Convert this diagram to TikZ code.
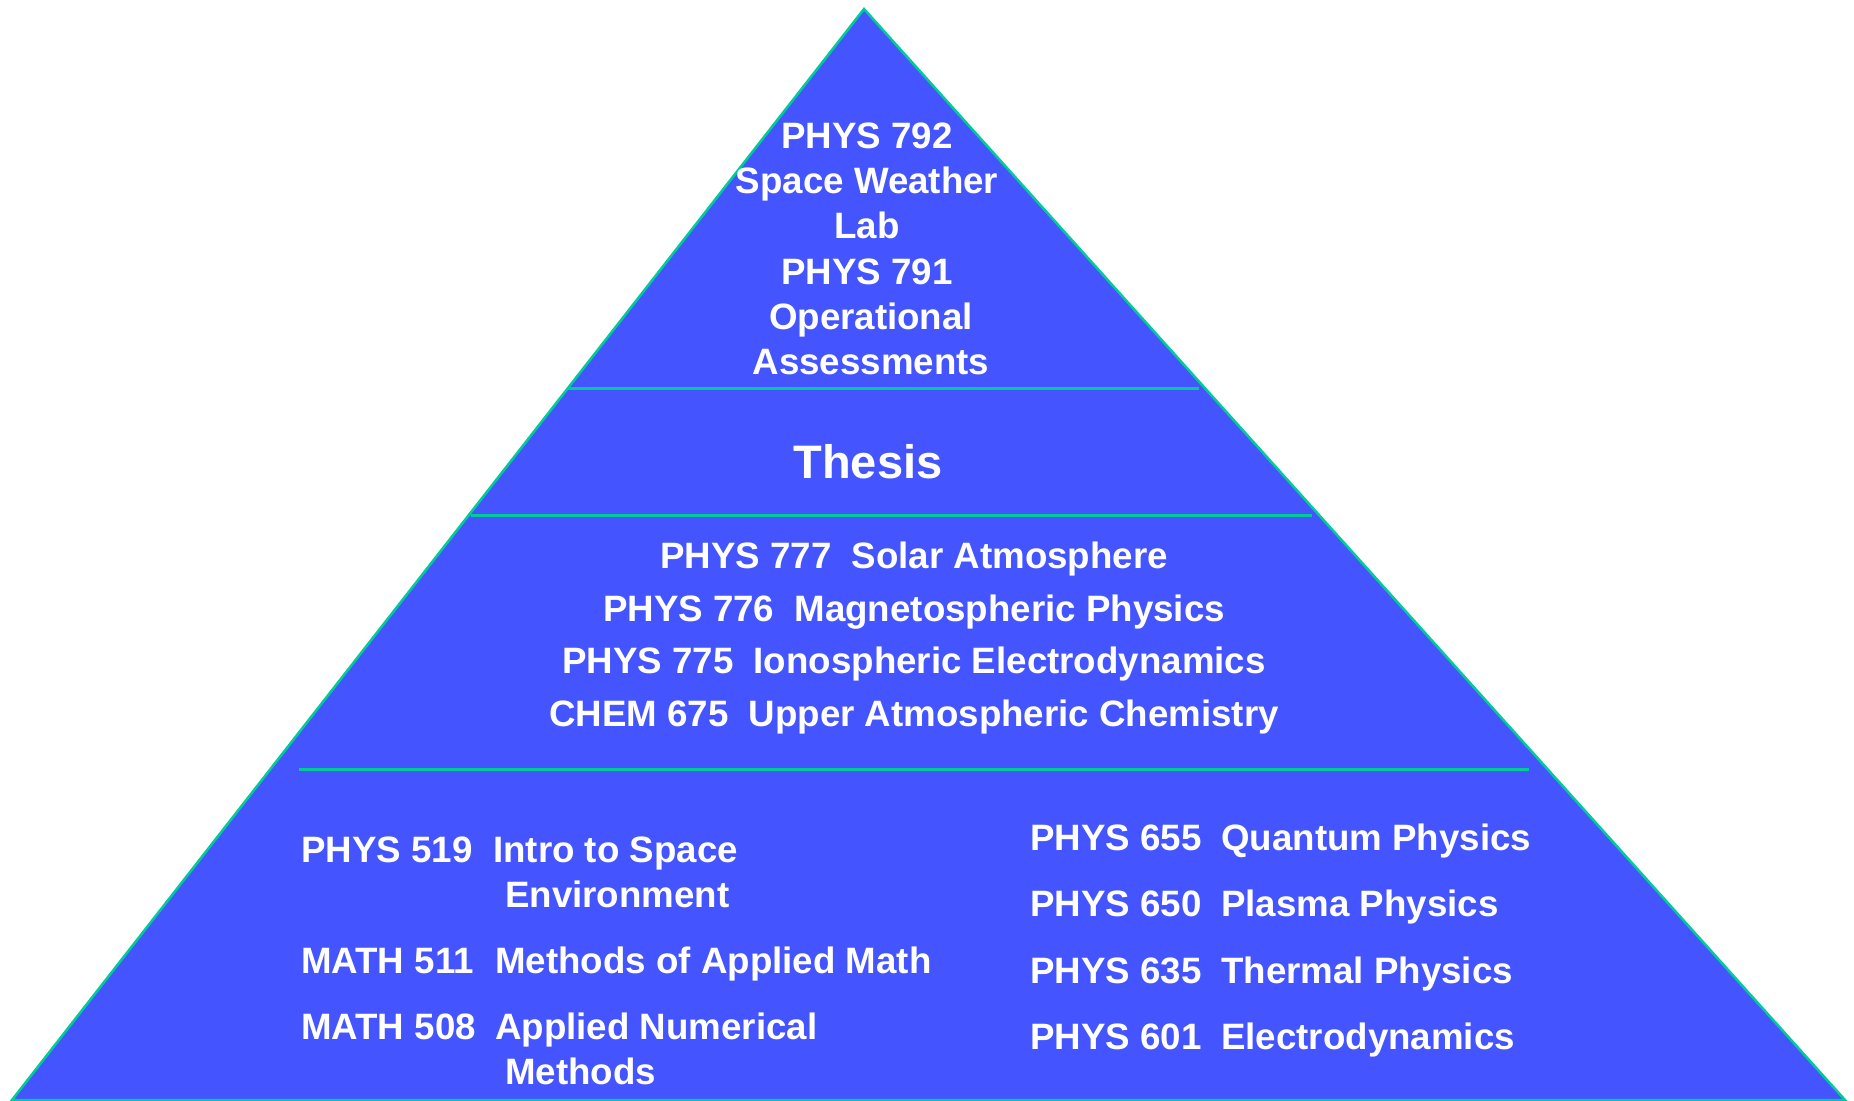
\documentclass[tikz,border=0pt]{standalone}
\usepackage{fontspec}
\setmainfont{Liberation Sans}
\definecolor{pyrblue}{RGB}{68,85,255}
\definecolor{pyredge}{RGB}{0,204,153}
\begin{document}
\begin{tikzpicture}[x=1pt,y=-1pt,
  txt/.style={text=white,inner sep=0pt,font=\fontsize{36.7}{45}\selectfont\bfseries},
  ctr/.style={txt,anchor=base},
  lft/.style={txt,anchor=base west},
  big/.style={text=white,inner sep=0pt,anchor=base,font=\fontsize{47}{56}\selectfont\bfseries},
  divider/.style={draw=pyredge,line width=3pt},
  pyrshape/.style={draw=pyredge,line width=2.5pt,fill=pyrblue,line join=miter}]
\useasboundingbox (0,0) rectangle (1854,1100);
\coordinate (apex) at (864,9);
\coordinate (bl) at (12,1100);
\coordinate (br) at (1845,1100);
\draw[pyrshape] (apex) -- (bl) -- (br) -- cycle;
% dividers
\coordinate (d1a) at (568,388); \coordinate (d1b) at (1199,388);
\coordinate (d2a) at (471,515); \coordinate (d2b) at (1312,515);
\coordinate (d3a) at (299,769); \coordinate (d3b) at (1529,769);
\draw[divider] (d1a) -- (d1b);
\draw[divider] (d2a) -- (d2b);
\draw[divider] (d3a) -- (d3b);
% top block
\node[ctr] (t1) at (867,148) {PHYS 792};
\node[ctr] (t2) at (867,193) {Space Weather};
\node[ctr] (t3) at (867,238) {Lab};
\node[ctr] (t4) at (867,284) {PHYS 791};
\node[ctr] (t5) at (871,329) {Operational};
\node[ctr] (t6) at (871,374) {Assessments};
% thesis
\node[big] (th) at (868,478) {Thesis};
% middle block
\node[ctr] (m1) at (914,568) {PHYS 777\hspace{0.55em}Solar Atmosphere};
\node[ctr] (m2) at (914,621) {PHYS 776\hspace{0.55em}Magnetospheric Physics};
\node[ctr] (m3) at (914,673) {PHYS 775\hspace{0.55em}Ionospheric Electrodynamics};
\node[ctr] (m4) at (914,726) {CHEM 675\hspace{0.55em}Upper Atmospheric Chemistry};
% bottom left
\node[lft] (l1c) at (301,862) {PHYS 519};
\node[lft] (l1t) at (493,862) {Intro to Space};
\node[lft] (l1u) at (505,907) {Environment};
\node[lft] (l2c) at (301,973) {MATH 511};
\node[lft] (l2t) at (495,973) {Methods of Applied Math};
\node[lft] (l3c) at (301,1039) {MATH 508};
\node[lft] (l3t) at (495,1039) {Applied Numerical};
\node[lft] (l3u) at (505,1084) {Methods};
% bottom right
\node[lft] (r1c) at (1030,850) {PHYS 655};
\node[lft] (r1t) at (1221,850) {Quantum Physics};
\node[lft] (r2c) at (1030,916) {PHYS 650};
\node[lft] (r2t) at (1221,916) {Plasma Physics};
\node[lft] (r3c) at (1030,983) {PHYS 635};
\node[lft] (r3t) at (1221,983) {Thermal Physics};
\node[lft] (r4c) at (1030,1049) {PHYS 601};
\node[lft] (r4t) at (1221,1049) {Electrodynamics};
\end{tikzpicture}
\end{document}
